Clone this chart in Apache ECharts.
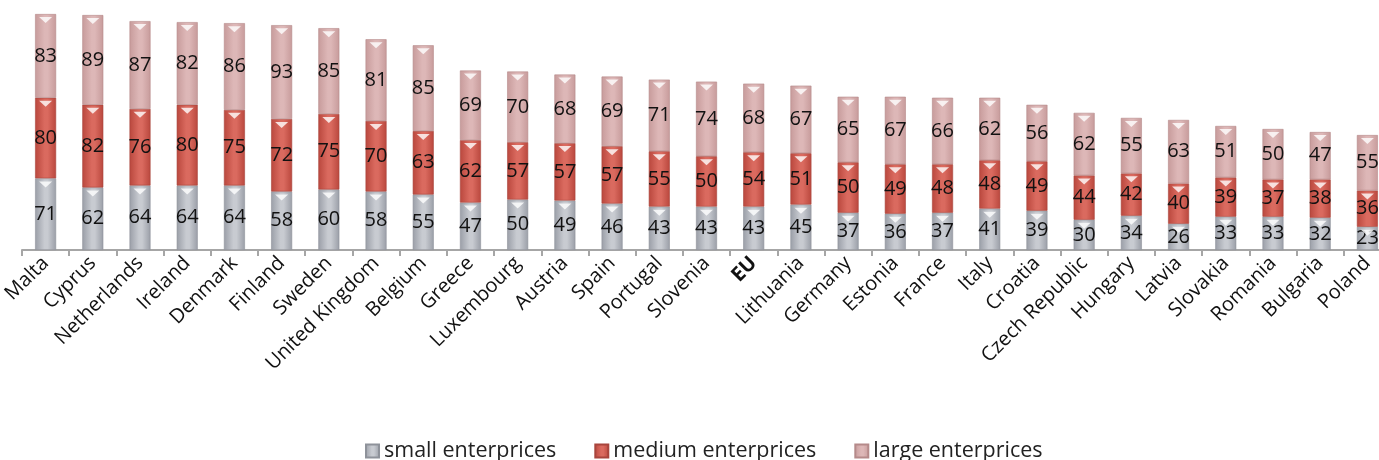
<!DOCTYPE html>
<html>
<head>
<meta charset="utf-8">
<script src="https://cdn.jsdelivr.net/npm/echarts@6/dist/echarts.min.js"></script>
<style>
html,body{margin:0;padding:0;background:#fff;}
#c{width:1379px;height:460px;}
</style>
</head>
<body>
<div id="c"></div>
<script>
var categories = ['Malta','Cyprus','Netherlands','Ireland','Denmark','Finland','Sweden','United Kingdom','Belgium','Greece','Luxembourg','Austria','Spain','Portugal','Slovenia','EU','Lithuania','Germany','Estonia','France','Italy','Croatia','Czech Republic','Hungary','Latvia','Slovakia','Romania','Bulgaria','Poland'];
var small = [71,62,64,64,64,58,60,58,55,47,50,49,46,43,43,43,45,37,36,37,41,39,30,34,26,33,33,32,23];
var medium = [80,82,76,80,75,72,75,70,63,62,57,57,57,55,50,54,51,50,49,48,48,49,44,42,40,39,37,38,36];
var large = [83,89,87,82,86,93,85,81,85,69,70,68,69,71,74,68,67,65,67,66,62,56,62,55,63,51,50,47,55];
var seriesNames = ['small enterprices','medium enterprices','large enterprices'];

function grad(edge, mid) {
  return new echarts.graphic.LinearGradient(0, 0, 1, 0, [
    {offset: 0, color: edge},
    {offset: 0.45, color: mid},
    {offset: 0.6, color: mid},
    {offset: 1, color: edge}
  ]);
}
var colors = [
  grad('#9a9ea7', '#c8cbd1'),
  grad('#b9473d', '#da6a5f'),
  grad('#c79b9b', '#ddb7b7')
];
var borderColors = ['#8e929a', '#a8453d', '#b58a8a'];

var cum1 = small.slice();
var cum2 = small.map(function(v, i){ return v + medium[i]; });
var cum3 = small.map(function(v, i){ return v + medium[i] + large[i]; });

function barSeries(name, data, idx) {
  return {
    name: name,
    type: 'bar',
    stack: 'total',
    barWidth: 21,
    data: data,
    itemStyle: {color: colors[idx], borderColor: borderColors[idx], borderWidth: 0.6},
    label: {show: true, position: 'inside', color: '#111', fontSize: 20, fontFamily: 'Open Sans'},
    emphasis: {disabled: true}
  };
}
function chevron(data) {
  return {
    type: 'pictorialBar',
    data: data,
    symbol: 'triangle',
    symbolRotate: 180,
    symbolSize: [13, 6],
    symbolPosition: 'end',
    symbolOffset: [0, 3],
    itemStyle: {color: '#ffffff', opacity: 0.8},
    z: 5,
    silent: true,
    legendHoverLink: false,
    tooltip: {show: false}
  };
}

var chart = echarts.init(document.getElementById('c'), null, {renderer: 'canvas'});
chart.setOption({
  animation: false,
  backgroundColor: '#fff',
  textStyle: {fontFamily: 'Open Sans'},
  grid: {left: 22, width: 1369, top: 8, height: 242, containLabel: false, outerBoundsMode: 'none'},
  legend: {
    data: seriesNames,
    top: 435,
    left: 360,
    itemWidth: 13,
    itemHeight: 13,
    itemGap: 38,
    icon: 'rect',
    textStyle: {fontSize: 21.5, color: '#222', fontFamily: 'Open Sans'}
  },
  xAxis: {
    type: 'category',
    data: categories,
    axisLine: {lineStyle: {color: '#a6a6a6', width: 2}},
    axisTick: {show: true, length: 6, lineStyle: {color: '#a6a6a6', width: 2}},
    axisLabel: {
      rotate: 45,
      interval: 0,
      margin: 10,
      fontSize: 20,
      color: '#111',
      fontFamily: 'Open Sans',
      formatter: function(v){ return v === 'EU' ? '{b|' + v + '}' : v; },
      rich: {b: {fontWeight: 'bold', fontSize: 20, color: '#111', fontFamily: 'Open Sans'}}
    }
  },
  yAxis: {
    type: 'value',
    min: 0,
    max: 240,
    show: false,
    splitLine: {show: false}
  },
  series: [
    barSeries(seriesNames[0], small, 0),
    barSeries(seriesNames[1], medium, 1),
    barSeries(seriesNames[2], large, 2),
    chevron(cum1),
    chevron(cum2),
    chevron(cum3)
  ]
});
</script>
</body>
</html>
